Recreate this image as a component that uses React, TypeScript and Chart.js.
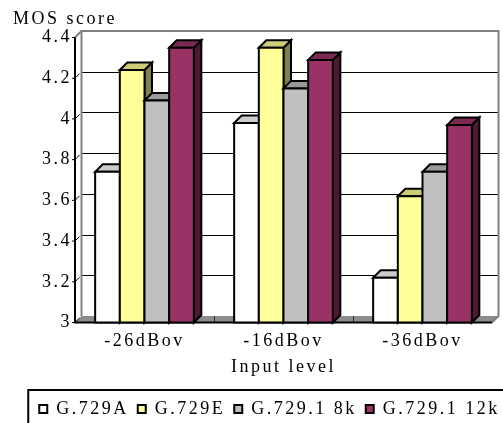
import React, { useEffect, useRef } from 'react';
import { Chart, registerables } from 'chart.js';

Chart.register(...registerables);

// ---- data ----
const categories = ['-26dBov', '-16dBov', '-36dBov'];
const seriesNames = ['G.729A', 'G.729E', 'G.729.1 8k', 'G.729.1 12k'];
const g729a = [3.74, 3.98, 3.22];
const g729e = [4.24, 4.35, 3.62];
const g7291_8k = [4.09, 4.15, 3.74];
const g7291_12k = [4.35, 4.29, 3.97];
const yTickLabels = ['3', '3.2', '3.4', '3.6', '3.8', '4', '4.2', '4.4'];
const yTitle = 'MOS score';
const xTitle = 'Input level';

// ---- styles ----
const W = 526;
const H = 430;
const FONT_FAMILY = "'Liberation Serif', 'Times New Roman', serif";
const FONT_SIZE = 18;
const LS = '2.5px';
const WALL = 6.5;
const DEPTH = 7.5;
const frontColors = ['#FFFFFF', '#FFFF99', '#C0C0C0', '#993366'];
const topColors = ['#CCCCCC', '#CCCC7A', '#9A9A9A', '#7A2952'];
const sideColors = ['#808080', '#80804D', '#606060', '#4D1A33'];

const seriesValues = [g729a, g729e, g7291_8k, g7291_12k];

function poly(ctx: CanvasRenderingContext2D, pts: number[][], fill: string) {
  ctx.beginPath();
  ctx.moveTo(pts[0][0], pts[0][1]);
  for (let i = 1; i < pts.length; i++) ctx.lineTo(pts[i][0], pts[i][1]);
  ctx.closePath();
  ctx.fillStyle = fill;
  ctx.fill();
  ctx.stroke();
}

const excel3d = {
  id: 'excel3d',
  beforeLayout(chart: any) {
    chart.ctx.letterSpacing = LS;
  },
  beforeDraw(chart: any) {
    chart.ctx.letterSpacing = LS;
  },
  beforeDatasetsDraw(chart: any) {
    const { ctx, chartArea } = chart;
    const { left, right, top, bottom } = chartArea;
    const ys = chart.scales.y;
    const xs = chart.scales.x;
    const d = WALL;
    ctx.save();
    // floor
    ctx.beginPath();
    ctx.moveTo(left, bottom);
    ctx.lineTo(right, bottom);
    ctx.lineTo(right + d, bottom - d);
    ctx.lineTo(left + d, bottom - d);
    ctx.closePath();
    ctx.fillStyle = '#8C8C8C';
    ctx.fill();
    // back-wall gridlines and front tick marks
    ctx.strokeStyle = '#000';
    ctx.lineWidth = 1;
    ys.ticks.forEach((t: any) => {
      const fy = ys.getPixelForValue(t.value);
      if (t.value > ys.min + 1e-6 && t.value < ys.max - 1e-6) {
        const py = Math.round(fy - d) + 0.5;
        ctx.beginPath();
        ctx.moveTo(left + d, py);
        ctx.lineTo(right + d, py);
        ctx.stroke();
      }
      ctx.beginPath();
      ctx.moveTo(left - 3, fy);
      ctx.lineTo(left, fy);
      ctx.lineTo(left + d * 0.7, fy - d * 0.7);
      ctx.stroke();
    });
    // floor category separators
    ctx.strokeStyle = '#303030';
    for (let i = 0; i < categories.length - 1; i++) {
      const xb = Math.round(xs.getPixelForValue(i + 0.5)) + 0.5;
      ctx.beginPath();
      ctx.moveTo(xb, bottom - d);
      ctx.lineTo(xb, bottom);
      ctx.stroke();
    }
    // wall outline
    ctx.strokeStyle = '#808080';
    ctx.lineWidth = 2;
    ctx.beginPath();
    ctx.moveTo(left + d, bottom - d);
    ctx.lineTo(left + d, top - d);
    ctx.lineTo(right + d, top - d);
    ctx.lineTo(right + d, bottom - d);
    ctx.lineTo(right, bottom);
    ctx.stroke();
    ctx.beginPath();
    ctx.moveTo(left, top);
    ctx.lineTo(left + d, top - d);
    ctx.stroke();
    // front axes
    ctx.strokeStyle = '#000';
    ctx.lineWidth = 2;
    ctx.beginPath();
    ctx.moveTo(left, top);
    ctx.lineTo(left, bottom);
    ctx.lineTo(right, bottom);
    ctx.stroke();
    ctx.restore();
  },
  afterDatasetsDraw(chart: any) {
    const { ctx } = chart;
    const b = DEPTH;
    ctx.save();
    ctx.strokeStyle = '#000';
    ctx.lineWidth = 2;
    ctx.lineJoin = 'miter';
    const n = chart.data.labels.length;
    for (let j = 0; j < n; j++) {
      for (let i = 0; i < chart.data.datasets.length; i++) {
        const el = chart.getDatasetMeta(i).data[j];
        const p = el.getProps(['x', 'y', 'base', 'width'], true);
        const l = p.x - p.width / 2;
        const r = p.x + p.width / 2;
        const ty = p.y;
        const base = p.base;
        poly(ctx, [[r, ty], [r + b, ty - b], [r + b, base - b], [r, base]], sideColors[i]);
        poly(ctx, [[l, ty], [l + b, ty - b], [r + b, ty - b], [r, ty]], topColors[i]);
        poly(ctx, [[l, ty], [r, ty], [r, base], [l, base]], frontColors[i]);
      }
    }
    ctx.restore();
  },
  afterDraw(chart: any) {
    const lg = chart.legend;
    if (!lg || !lg.legendHitBoxes || !lg.legendHitBoxes.length) return;
    const hb = lg.legendHitBoxes[0];
    const { ctx } = chart;
    ctx.save();
    ctx.strokeStyle = '#000';
    ctx.lineWidth = 2;
    ctx.strokeRect(hb.left - 11, hb.top - 10, chart.width, 80);
    ctx.restore();
  },
};

export default function App() {
  const ref = useRef<HTMLCanvasElement | null>(null);
  useEffect(() => {
    if (!ref.current) return;
    const font = { family: FONT_FAMILY, size: FONT_SIZE, weight: 'normal' as const };
    const chart = new Chart(ref.current, {
      type: 'bar',
      data: {
        labels: categories,
        datasets: seriesNames.map((name, i) => ({
          label: name,
          data: seriesValues[i],
          backgroundColor: frontColors[i],
          borderColor: '#000',
          borderWidth: 2,
          categoryPercentage: 0.71,
          barPercentage: 1,
          base: 3,
          yAxisID: 'y',
        })),
      },
      options: {
        responsive: false,
        devicePixelRatio: 1,
        animation: false,
        color: '#000',
        font,
        layout: { padding: { left: 13, top: 0, right: 0, bottom: 2 } },
        scales: {
          x: {
            type: 'category',
            grid: { display: false, drawTicks: false },
            border: { display: false },
            ticks: { color: '#000', font, padding: 8.2, maxRotation: 0, autoSkip: false },
            title: { display: true, text: xTitle, color: '#000', font, padding: { top: -3.8, bottom: 12.7 } },
          },
          y: {
            type: 'linear',
            min: 3,
            max: 4.4,
            grid: { display: false, drawTicks: false },
            border: { display: false },
            ticks: {
              stepSize: 0.2,
              color: '#000',
              font,
              padding: 3,
              callback: (_v: any, i: number) => yTickLabels[i],
            },
            afterFit: (s: any) => {
              s.width = 62;
            },
          },
          yR: {
            type: 'linear',
            position: 'right',
            display: true,
            grid: { display: false, drawTicks: false },
            border: { display: false },
            ticks: { display: false },
            afterFit: (s: any) => {
              s.width = W - 492;
            },
          },
        },
        plugins: {
          title: {
            display: true,
            text: yTitle,
            align: 'start',
            color: '#000',
            font,
            padding: { top: 8.9, bottom: 7.0 },
          },
          legend: {
            display: true,
            position: 'bottom',
            labels: {
              color: '#000',
              font,
              boxWidth: 8,
              boxHeight: 8,
              padding: 9,
            },
          },
          tooltip: { enabled: false },
        },
      },
      plugins: [excel3d],
    });
    return () => chart.destroy();
  }, []);
  return (
    <div
      style={{
        position: 'fixed',
        left: 0,
        top: 0,
        width: 503,
        height: 423,
        overflow: 'hidden',
        background: '#fff',
      }}
    >
      <canvas ref={ref} width={W} height={H} style={{ display: 'block' }} />
    </div>
  );
}
